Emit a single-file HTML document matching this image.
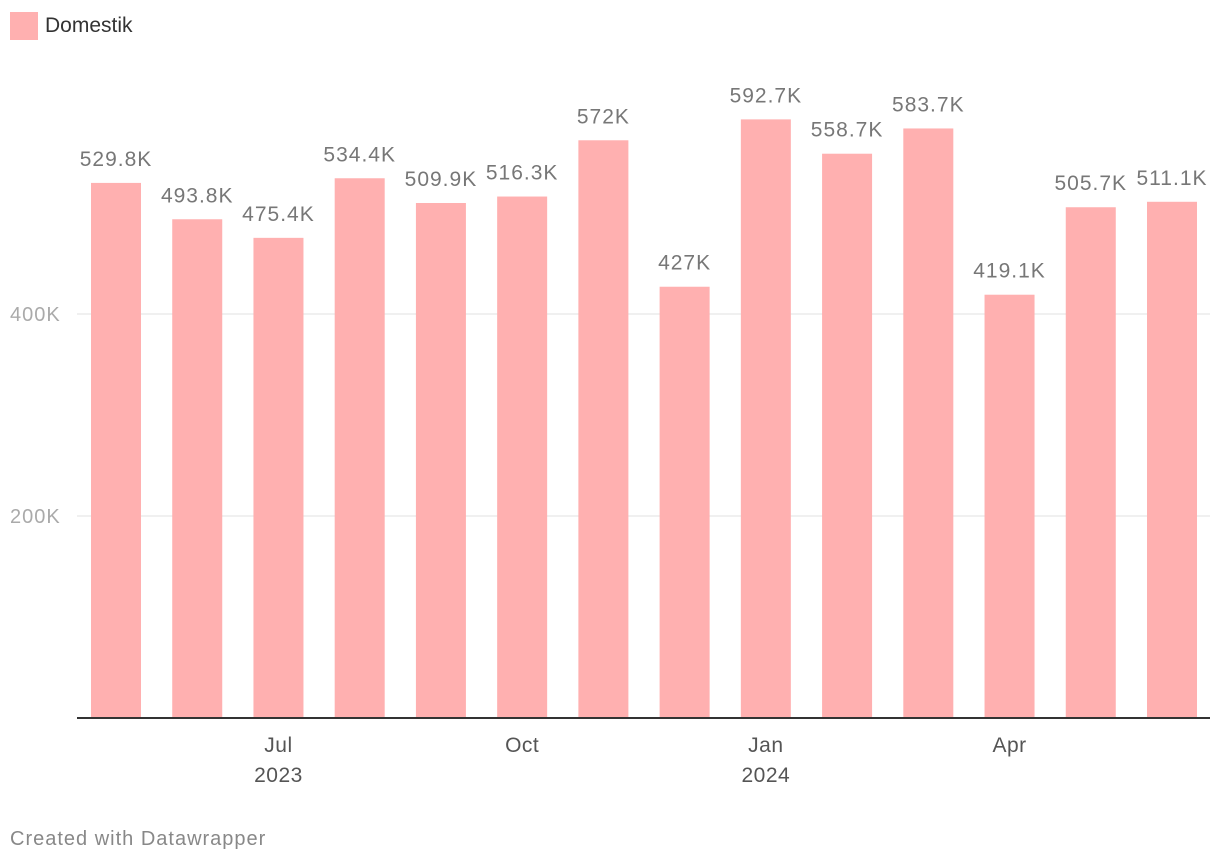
<!DOCTYPE html>
<html><head><meta charset="utf-8">
<style>
body{margin:0;background:#fff;font-family:"Liberation Sans",Arial,sans-serif;}
#wrap{position:relative;width:1220px;height:864px;overflow:hidden;}
</style></head>
<body>
<div id="wrap">
<svg id="chart" width="1220" height="864" style="position:absolute;left:0;top:0">
  <rect x="10" y="12" width="28" height="28" fill="#ffb0b0"/>
  <text x="45" y="32" font-size="21" fill="#333">Domestik</text>
  <g id="grid"></g>
  <g id="bars"></g>
  <g id="labels"></g>
  <line x1="77" x2="1210" y1="718" y2="718" stroke="#333" stroke-width="2"/>
  <g id="xticks"></g>
  <text x="10" y="845" font-size="20" letter-spacing="1" fill="#888">Created with Datawrapper</text>
</svg>
</div>
<script>
const categories = ["May 2023","Jun 2023","Jul 2023","Aug 2023","Sep 2023","Oct 2023","Nov 2023","Dec 2023","Jan 2024","Feb 2024","Mar 2024","Apr 2024","May 2024","Jun 2024"];
const values = [529800,493800,475400,534400,509900,516300,572000,427000,592700,558700,583700,419100,505700,511100];
const valueLabels = ["529.8K","493.8K","475.4K","534.4K","509.9K","516.3K","572K","427K","592.7K","558.7K","583.7K","419.1K","505.7K","511.1K"];
const yTicks = [200000,400000];
const yTickLabels = ["200K","400K"];
const xTickIndex = [2,5,8,11];
const xTickLabels = ["Jul","Oct","Jan","Apr"];
const xTickYears = ["2023","","2024",""];

const NS="http://www.w3.org/2000/svg";
const y = v => 718 - v*(404/400000);
const x = i => 91 + i*(1147-91)/13;
const bw = 50;
function mk(tag, attrs, parent, text){
  const e=document.createElementNS(NS,tag);
  for(const k in attrs) e.setAttribute(k,attrs[k]);
  if(text!==undefined) e.textContent=text;
  document.getElementById(parent).appendChild(e);
  return e;
}
yTicks.forEach((t,i)=>{
  const l=mk("line",{x1:77,x2:1210,y1:y(t),y2:y(t),stroke:"#e0e0e0","stroke-width":1},"grid");
  
  
  const tx=mk("text",{x:10,y:y(t)+7,"font-size":20,"letter-spacing":1,fill:"#aaa"},"grid",yTickLabels[i]);
  
  
});
values.forEach((v,i)=>{
  const r=mk("rect",{x:x(i),y:y(v),width:bw,height:718-y(v),fill:"#ffb0b0"},"bars");
  
  
  const t=mk("text",{x:x(i)+bw/2,y:y(v)-17,"font-size":21,"letter-spacing":1,fill:"#777","text-anchor":"middle"},"labels",valueLabels[i]);
  
  
});
xTickIndex.forEach((ix,i)=>{
  const cx=x(ix)+bw/2;
  const t=mk("text",{x:cx,y:752,"font-size":21,"letter-spacing":0.5,fill:"#555","text-anchor":"middle"},"xticks",xTickLabels[i]);
  
  
  if(xTickYears[i]){
    const t2=mk("text",{x:cx,y:782,"font-size":21,"letter-spacing":0.5,fill:"#555","text-anchor":"middle"},"xticks",xTickYears[i]);
    
    
  }
});
</script>
</body></html>
